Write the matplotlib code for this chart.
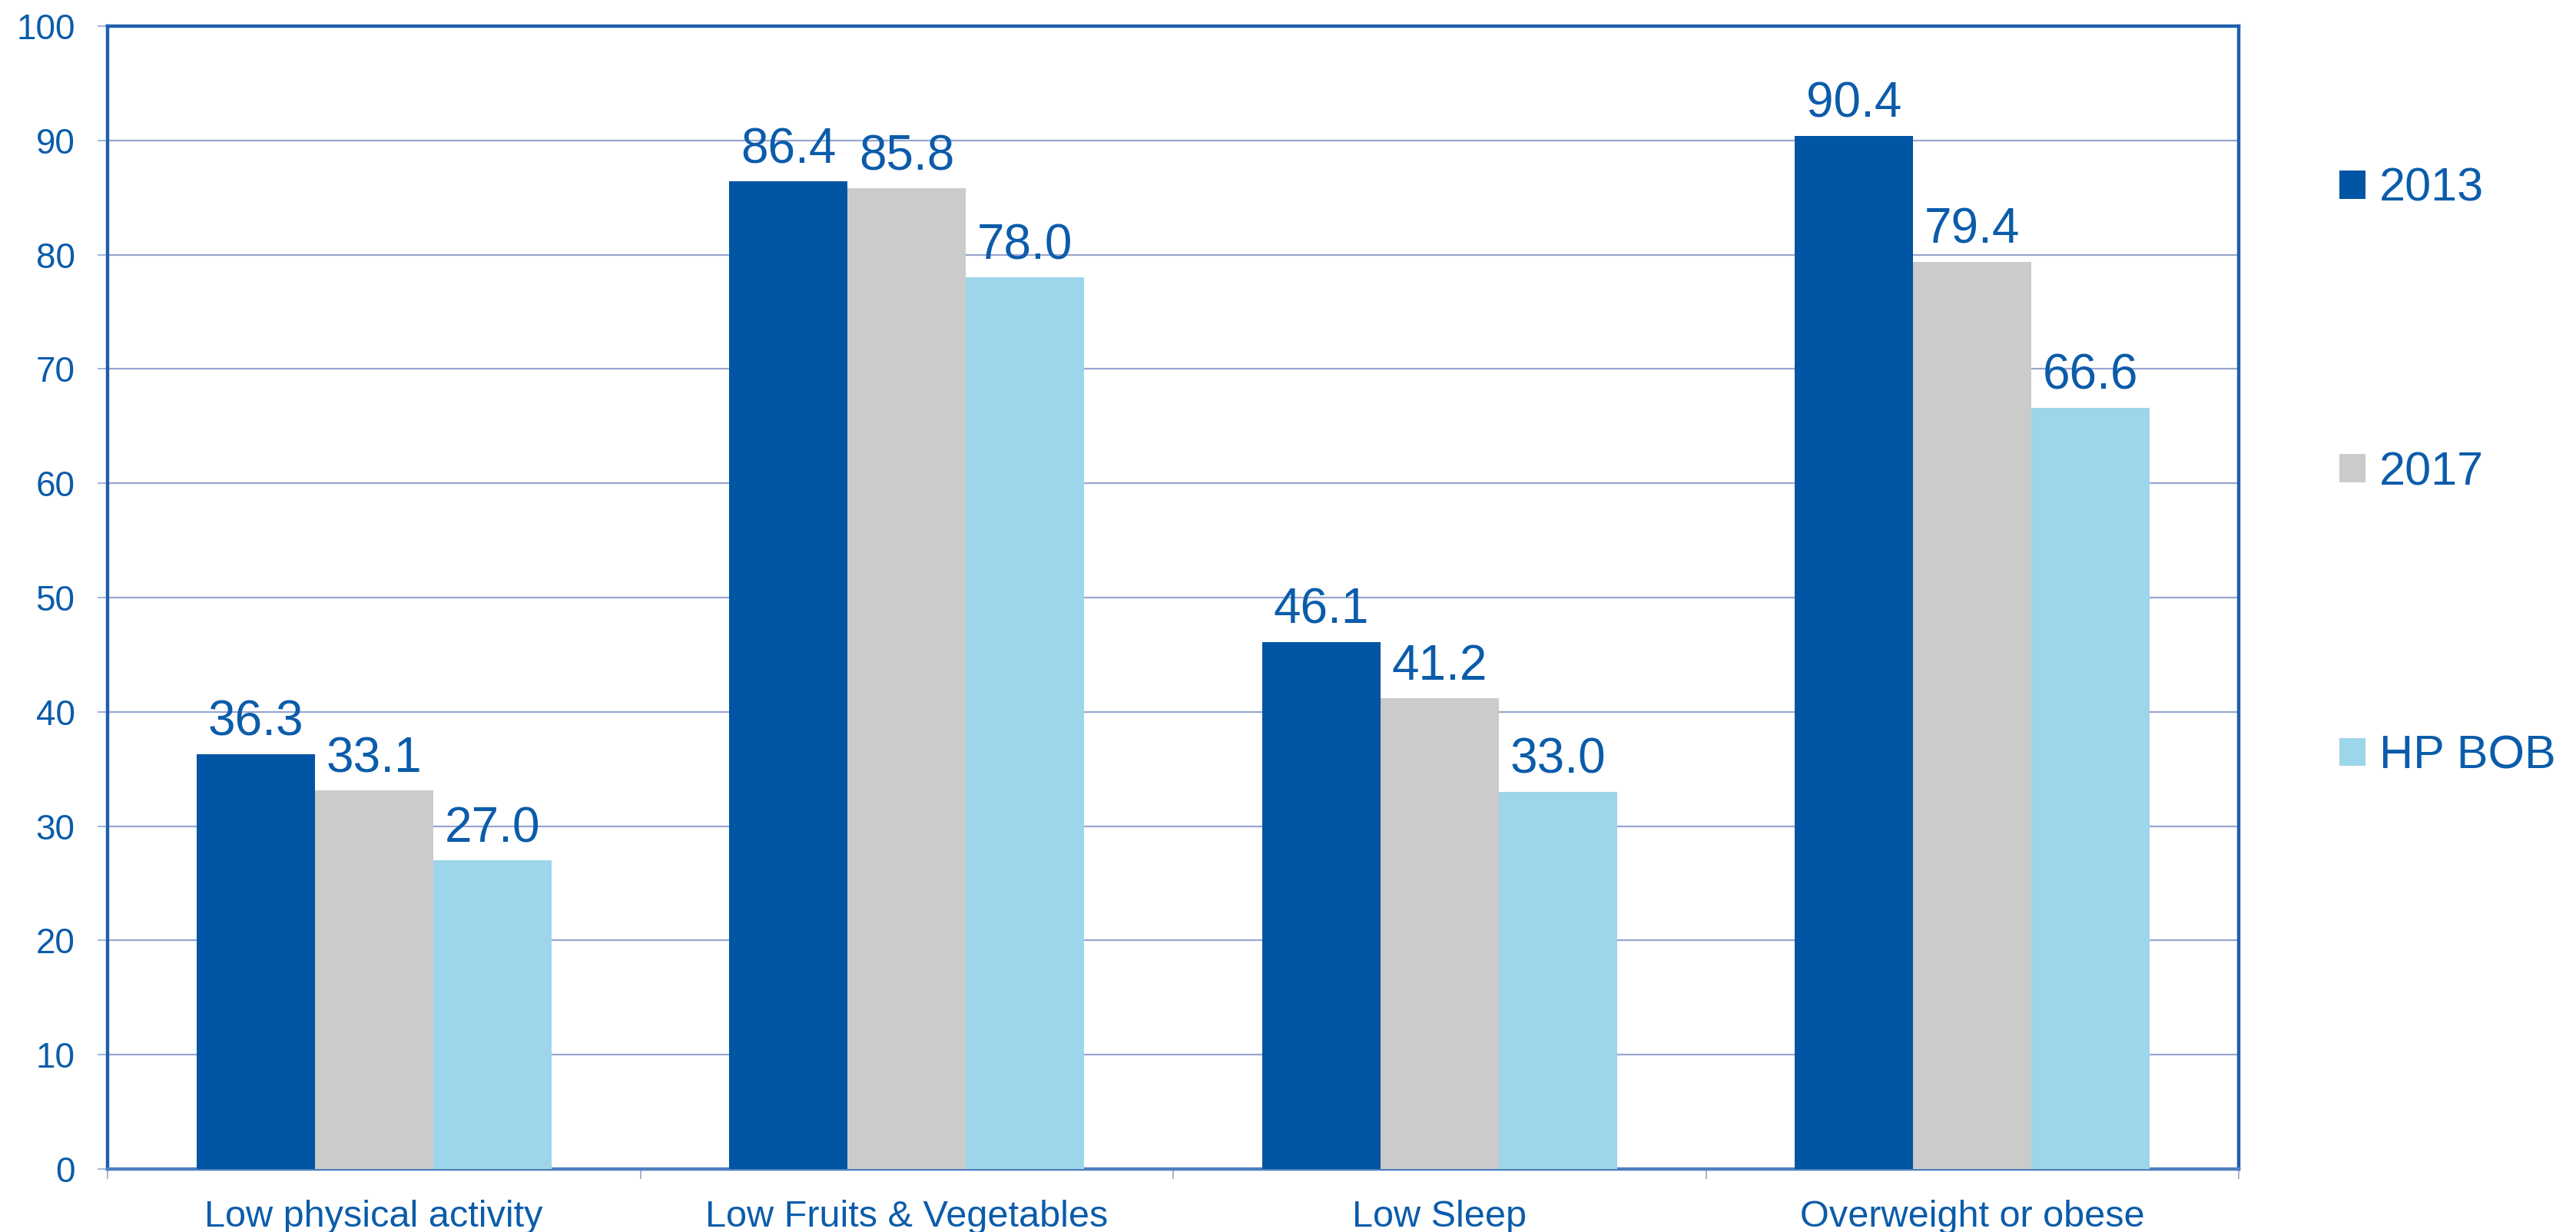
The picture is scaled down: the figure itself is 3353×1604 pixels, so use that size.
import matplotlib
matplotlib.use("Agg")
import matplotlib.pyplot as plt
from matplotlib.patches import Patch
import numpy as np

categories = ["Low physical activity", "Low Fruits & Vegetables", "Low Sleep", "Overweight or obese"]
series_names = ["2013", "2017", "HP BOB"]
v2013 = [36.3, 86.4, 46.1, 90.4]
v2017 = [33.1, 85.8, 41.2, 79.4]
vhpbob = [27.0, 78.0, 33.0, 66.6]
yticks = [0, 10, 20, 30, 40, 50, 60, 70, 80, 90, 100]

colors = ["#0055A4", "#CBCBCB", "#9DD5EA"]
text_color = "#0B5CAA"
grid_color = "#97A6CF"
spine_color = "#1F5FAD"

plt.rcParams['font.family'] = ['Liberation Sans', 'DejaVu Sans']

fig = plt.figure(figsize=(33.53, 16.04), dpi=100)
ax = fig.add_axes([140/3353, 1 - 1522/1604, (2914-140)/3353, (1522-34)/1604])

x = np.arange(len(categories))
w = 1/4.5
all_vals = [v2013, v2017, vhpbob]
for i, (vals, name, c) in enumerate(zip(all_vals, series_names, colors)):
    bars = ax.bar(x + (i-1)*w, vals, width=w, color=c, label=name, zorder=3)
    for b, v in zip(bars, vals):
        ax.annotate(f"{v:.1f}", (b.get_x() + b.get_width()/2, v),
                    xytext=(0, 8), textcoords="offset points",
                    ha="center", va="bottom", fontsize=46, color=text_color, zorder=4)

ax.set_xlim(-0.5, len(categories)-0.5)
ax.set_ylim(0, 100)
ax.set_yticks(yticks)
ax.set_yticklabels([str(t) for t in yticks])
ax.yaxis.grid(True, color=grid_color, linewidth=1.6, zorder=0)
ax.set_axisbelow(True)

ax.set_xticks(x)
ax.set_xticklabels(categories)
ax.set_xticks(np.arange(-0.5, len(categories)), minor=True)
ax.tick_params(axis='x', which='major', length=0, pad=29, labelsize=35, labelcolor=text_color)
ax.tick_params(axis='x', which='minor', length=9.5, width=1.2, color=grid_color, direction='out')
ax.tick_params(axis='y', which='major', length=9.5, width=1.2, color=grid_color, direction='out',
               pad=21, labelsize=33, labelcolor=text_color)

for s in ax.spines.values():
    s.set_color(spine_color)
    s.set_linewidth(3.2)
ax.spines['bottom'].set_color("#4D7FC0")

handles = [Patch(facecolor=c, edgecolor='none') for c in colors]
leg = fig.legend(handles, series_names, loc='upper left',
                 bbox_to_anchor=(3045/3353, 1 - 218/1604), frameon=False,
                 fontsize=44, labelspacing=5.11, handlelength=0.55, handleheight=0.55,
                 handletextpad=0.3, borderpad=0, borderaxespad=0)
for t in leg.get_texts():
    t.set_color(text_color)

fig.savefig("out.png", dpi=100)
